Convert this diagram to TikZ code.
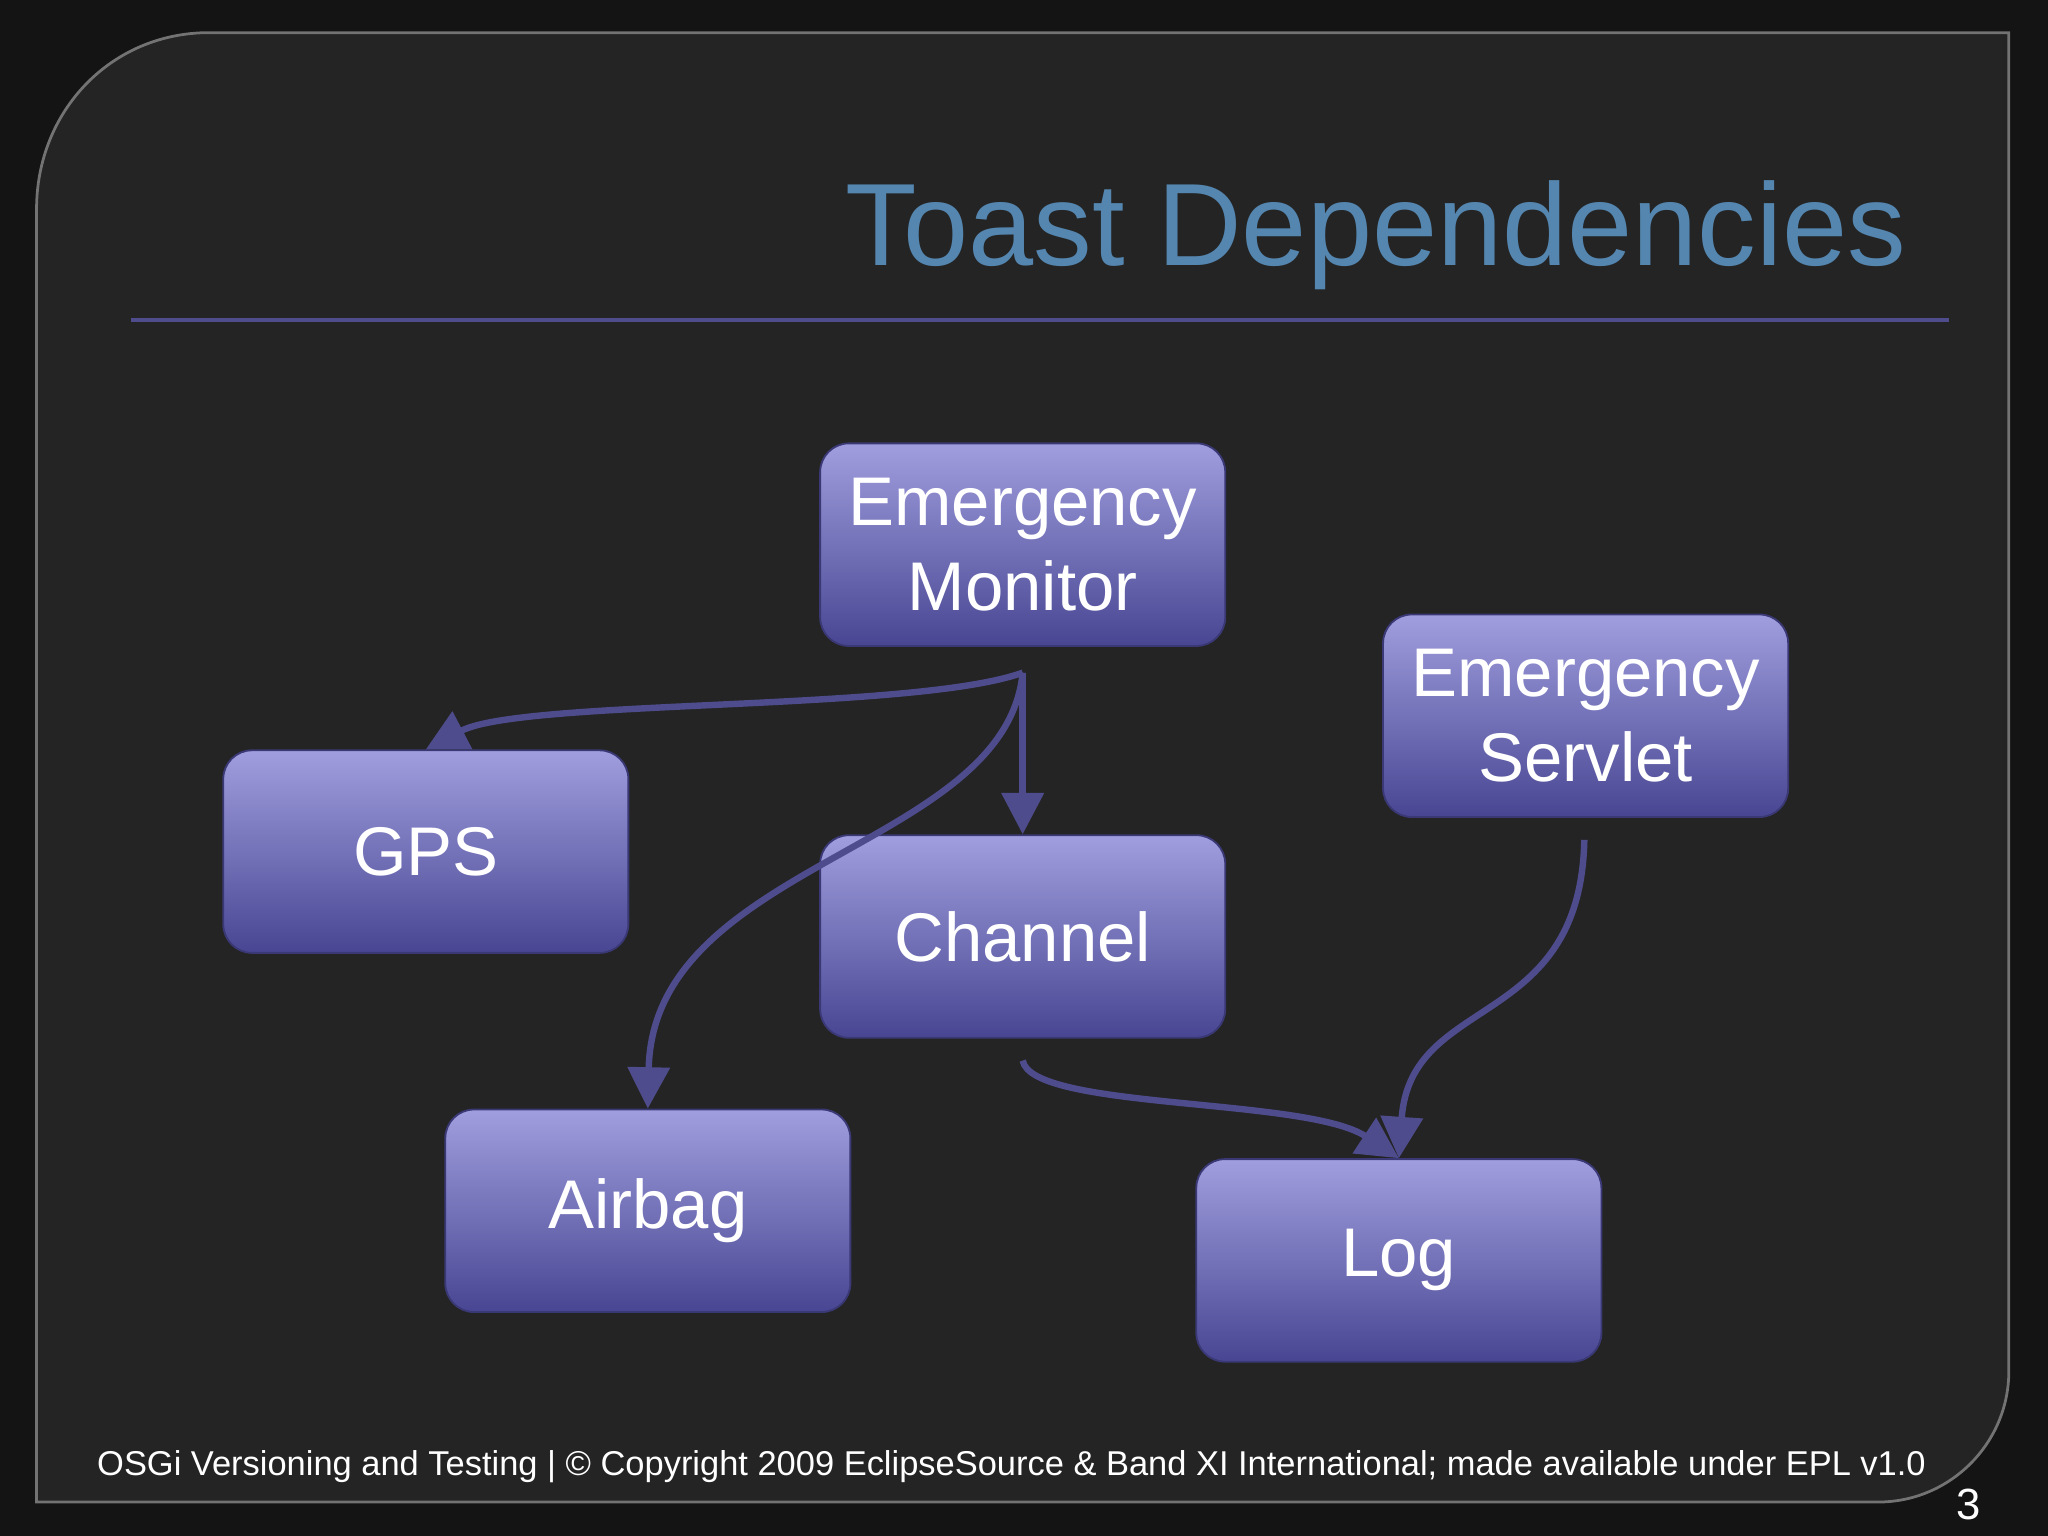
\documentclass[tikz,border=0pt]{standalone}
\usepackage{fontspec}
\setmainfont{Liberation Sans}
\usetikzlibrary{positioning,arrows.meta}
\definecolor{boxtop}{RGB}{160,158,222}
\definecolor{boxbot}{RGB}{72,70,146}
\definecolor{arrowc}{RGB}{78,76,140}
\definecolor{titlec}{RGB}{84,134,176}

\begin{document}
\begin{tikzpicture}[x=0.01cm,y=-0.01cm,
  box/.style={rectangle,rounded corners=0.22cm,top color=boxtop,bottom color=boxbot,
    draw=boxbot!80!black,minimum width=3.1cm,minimum height=1.55cm,
    text=white,font=\fontsize{15}{18.5}\selectfont,align=center,inner sep=0pt},
  dep/.style={draw=arrowc,line width=1.4pt,-{Triangle[length=9pt,width=9pt]}}]
\tikzstyle{every node}=[font=\fontsize{15}{18.5}\selectfont]
% background and panel
\fill[black!92] (0,0) rectangle (1568,1176);
\fill[black!86,draw=black!55,line width=0.6pt] (28,1150) -- (28,160) .. controls (28,85) and (85,25) .. (160,25)
  -- (1538,25) -- (1538,1050) .. controls (1538,1105) and (1493,1150) .. (1438,1150) -- cycle;
\node[anchor=east,text=titlec,font=\fontsize{25.5}{28}\selectfont] (title) at (1472,180) {Toast Dependencies};
\draw[draw=arrowc,line width=0.8pt] (100,245) -- (1492,245);
% the boxes
\node[box] (monitor) at (783,417) {Emergency\\Monitor};
\node[box] (gps) at (326,652) {GPS};
\node[box] (servlet) at (1214,548) {Emergency\\Servlet};
\node[box] (channel) at (783,717) {Channel};
\node[box] (airbag) at (496,927) {Airbag};
\node[box] (log) at (1071,965) {Log};
% the dependencies
\coordinate (fork) at (783,515);
\draw[dep] (fork) .. controls (700,545) and (400,535) .. (gps.north);
\draw[dep] (fork) -- (channel.north);
\draw[dep] (fork) .. controls (770,650) and (500,660) .. (airbag.north);
\coordinate (chout) at (783,812);
\draw[dep] (chout) .. controls (790,850) and (1000,840) .. (log.north);
\coordinate (svout) at (1213,643);
\draw[dep] (svout) .. controls (1210,790) and (1080,760) .. (log.north);
% footer
\node[anchor=west,text=white,font=\fontsize{7.5}{9}\selectfont] (footer) at (62,1123)
  {OSGi Versioning and Testing | © Copyright 2009 EclipseSource \& Band XI International; made available under EPL v1.0};
\node[text=white,font=\fontsize{9.5}{11}\selectfont] (page) at (1507,1152) {3};
\end{tikzpicture}
\end{document}
